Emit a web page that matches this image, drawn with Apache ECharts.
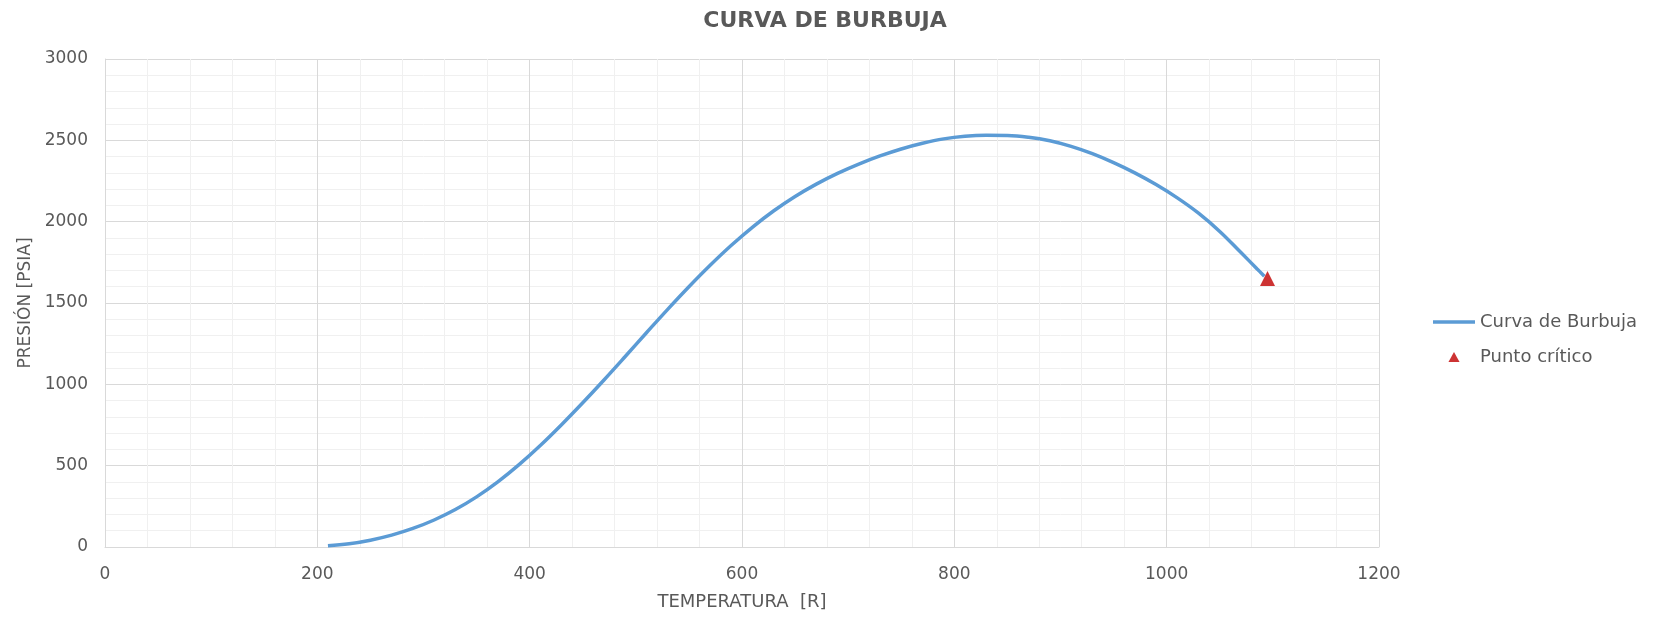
<!DOCTYPE html>
<html>
<head>
<meta charset="utf-8">
<title>Curva de Burbuja</title>
<script src="https://cdn.jsdelivr.net/npm/echarts@6/dist/echarts.min.js"></script>
<style>
  html, body { margin: 0; padding: 0; background: #fff; }
  #chart { width: 1654px; height: 618px; }
</style>
</head>
<body>
<div id="chart"></div>
<script>
// temperatura [R] y presion [psia]
var temperatura = [210, 230, 250, 270, 290, 310, 330, 350, 370, 390, 410, 430, 450, 470, 490, 510, 530, 550, 570, 590,
  610, 630, 650, 670, 690, 710, 730, 750, 770, 790, 810, 830, 850, 870, 890, 910, 930, 950, 970, 990,
  1010, 1030, 1050, 1070, 1085, 1092];
var presion = [8, 20, 42, 73, 114, 166, 230, 308, 400, 506, 624, 752, 887, 1027, 1171, 1317, 1461, 1600, 1732, 1855,
  1967, 2067, 2155, 2231, 2297, 2354, 2404, 2447, 2482, 2509, 2525, 2531, 2530, 2519, 2497, 2463, 2418, 2363, 2300, 2228,
  2146, 2052, 1940, 1810, 1711, 1665];
var puntoCritico = [1095, 1650];

var xTicks = [0, 1200, 200];   // min, max, intervalo
var yTicks = [0, 3000, 500];

var gris = '#595959';
var fuente = 'DejaVu Sans';

var curva = temperatura.map(function (t, i) { return [t, presion[i]]; });

var myChart = echarts.init(document.getElementById('chart'));
myChart.setOption({
  animation: false,
  backgroundColor: '#fff',
  title: {
    text: 'CURVA DE BURBUJA',
    left: 820,
    textAlign: 'center',
    top: 5,
    textStyle: { fontFamily: fuente, fontSize: 22, fontWeight: 'bold', color: gris }
  },
  grid: { left: 105, right: 275, top: 59, bottom: 71 },
  legend: {
    orient: 'vertical',
    left: 1428,
    top: 308,
    itemWidth: 42,
    itemHeight: 10,
    itemGap: 17,
    symbolKeepAspect: true,
    textStyle: { fontFamily: fuente, fontSize: 18, color: gris },
    data: [
      { name: 'Curva de Burbuja', icon: 'path://M0,0 L42,0 L42,3.5 L0,3.5 Z' },
      { name: 'Punto crítico', icon: 'path://M5,0 L10,9 L0,9 Z' }
    ]
  },
  xAxis: {
    type: 'value',
    min: xTicks[0], max: xTicks[1], interval: xTicks[2],
    name: 'TEMPERATURA  [R]',
    nameLocation: 'middle',
    nameGap: 46,
    nameTextStyle: { fontFamily: fuente, fontSize: 18, color: gris },
    axisLine: { show: true, lineStyle: { color: '#d9d9d9', width: 1 } },
    axisTick: { show: false },
    axisLabel: { margin: 19, fontFamily: fuente, fontSize: 17, color: gris, formatter: function (v) { return String(v); } },
    splitLine: { show: true, lineStyle: { color: '#d9d9d9', width: 1 } },
    minorTick: { show: false, splitNumber: 5 },
    minorSplitLine: { show: true, lineStyle: { color: '#f0f0f0', width: 1 } }
  },
  yAxis: {
    type: 'value',
    min: yTicks[0], max: yTicks[1], interval: yTicks[2],
    name: 'PRESIÓN [PSIA]',
    nameLocation: 'middle',
    nameGap: 67,
    nameTextStyle: { fontFamily: fuente, fontSize: 17, color: gris },
    axisLine: { show: true, lineStyle: { color: '#d9d9d9', width: 1 } },
    axisTick: { show: false },
    axisLabel: { margin: 17, fontFamily: fuente, fontSize: 17, color: gris, formatter: function (v) { return String(v); } },
    splitLine: { show: true, lineStyle: { color: '#d9d9d9', width: 1 } },
    minorTick: { show: false, splitNumber: 5 },
    minorSplitLine: { show: true, lineStyle: { color: '#f0f0f0', width: 1 } }
  },
  series: [
    {
      name: 'Curva de Burbuja',
      type: 'line',
      data: curva,
      smooth: 0.4,
      symbol: 'none',
      lineStyle: { color: '#5b9bd5', width: 3.5 },
      itemStyle: { color: '#5b9bd5' }
    },
    {
      name: 'Punto crítico',
      type: 'scatter',
      data: [puntoCritico],
      symbol: 'triangle',
      symbolSize: 15,
      itemStyle: { color: '#c00000' },
      z: 5
    }
  ]
});
</script>
</body>
</html>
